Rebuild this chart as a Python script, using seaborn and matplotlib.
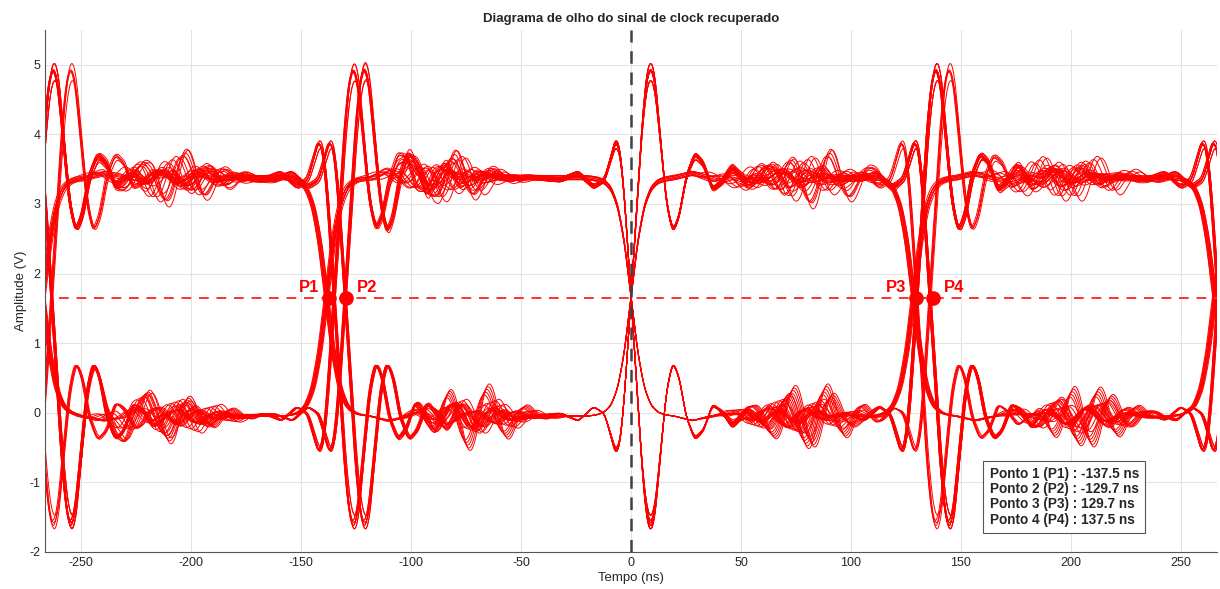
import numpy as np
import pandas as pd
import matplotlib
matplotlib.use("Agg")
import matplotlib.pyplot as plt
import seaborn as sns

sharp_t = [-45, -32, -24, -17, -12, -9, -7, -5, -3, 0, 3, 5, 7, 9, 11, 13, 16, 19, 22, 25, 29, 33, 37, 41, 46, 52, 60, 70, 90]
sharp_v = [0.0, 0.01, -0.02, 0.04, 0.01, -0.09, -0.16, -0.12, 0.08, 0.5, 0.93, 1.22, 1.42, 1.48, 1.41,
           1.2, 0.9, 0.77, 0.84, 1.0, 1.1, 1.06, 0.95, 0.98, 1.04, 0.98, 1.01, 1.0, 1.0]
smooth_t = [-40, -20, -15, -12, -9, -6, -3, 0, 3, 6, 9, 12, 15, 20, 28, 40, 60]
smooth_v = [0.0, 0.0, 0.007, 0.018, 0.047, 0.12, 0.27, 0.5, 0.73, 0.88, 0.953, 0.982, 0.993, 1.0, 1.02, 0.99, 1.0]

low_level = -0.05
high_level = 3.38

# one row per recovered clock trace
start_level = [0, 1, 0, 1, 0, 1, 0, 1, 0, 1, 0, 1]
edge_kind = ["sharp"] * 8 + ["smooth"] * 4
edges = [
    [-271.5, -135.0, 0.0, 130.0, 267.0],
    [-263.5, -130.0, 0.0, 136.0, 272.0],
    [-263.5, -130.0, 0.0, 136.0, 272.0],
    [-271.5, -135.0, 0.0, 130.0, 267.0],
    [-271.5, -130.0, 0.0, 136.0, 267.0],
    [-263.5, -135.0, 0.0, 130.0, 272.0],
    [-271.5, -135.0, 0.0, 136.0, 272.0],
    [-263.5, -130.0, 0.0, 130.0, 267.0],
    [-268.0, -139.0, 0.0, 128.0, 265.0],
    [-268.0, -139.0, 0.0, 128.0, 265.0],
    [-267.0, -138.0, 0.0, 129.0, 266.0],
    [-267.0, -138.0, 0.0, 129.0, 266.0],
]

# ringing packets in the middle of each half period
pk_center = [-207, -78, 74, 200]
pk_amp = [
    [0.10, 0.42, -0.15, 0.12],
    [-0.40, 0.10, 0.42, -0.12],
    [0.15, -0.12, 0.10, 0.38],
    [-0.12, 0.15, -0.40, 0.10],
    [0.38, -0.10, 0.15, -0.15],
    [-0.15, 0.40, -0.10, 0.12],
    [0.12, -0.15, 0.38, -0.40],
    [-0.10, 0.12, -0.15, 0.15],
    [0.28, -0.22, 0.28, -0.22],
    [-0.22, 0.28, -0.22, 0.28],
    [0.18, 0.22, -0.18, 0.20],
    [-0.28, -0.18, 0.22, -0.28],
]
pk_shift = [
    [5, 8, -6, 3],
    [-8, -4, 10, -5],
    [10, 6, -10, 8],
    [-3, -10, 4, -8],
    [0, 12, 8, 12],
    [12, -7, -3, -12],
    [-12, 2, 12, 5],
    [6, -12, -8, 0],
    [-6, 4, 2, -3],
    [4, -5, -4, 6],
    [8, 10, -12, 10],
    [-10, -8, 6, -10],
]
pk_period = 18.0
pk_width = 15.0

# each trace is drawn as a thin bundle of near copies
bundle_edge = [-0.5, -0.25, 0.0, 0.25, 0.5]
bundle_pk = [-1.0, -0.5, 0.0, 0.5, 1.0]
bundle_lvl = [0.03, -0.02, 0.0, 0.02, -0.03]
bundle_ov = [-0.06, 0.0, -0.03, 0.02, -0.09]

p_names = ["P1", "P2", "P3", "P4"]
p_times = [-137.5, -129.7, 129.7, 137.5]
threshold = 1.65

t = np.arange(-268, 268.01, 0.25)
kern = np.exp(-0.5 * (np.arange(-8, 9) * 0.25 / 0.8) ** 2)
kern = kern / kern.sum()


def step(tt, kind, ov):
    if kind == "sharp":
        s = np.interp(tt, sharp_t, sharp_v, left=0, right=1)
    else:
        s = np.interp(tt, smooth_t, smooth_v, left=0, right=1)
    return s + ov * (s - np.clip(s, 0, 1))


rows = []
uid = 0
for i in range(len(edges)):
    spread = 1.2 if edge_kind[i] == "sharp" else 3.5
    for b in range(len(bundle_edge)):
        lvl = float(start_level[i])
        sign = 1 if start_level[i] == 0 else -1
        for e in edges[i]:
            te = e if e == 0 else e + bundle_edge[b]
            lvl = lvl + sign * step(t - te, edge_kind[i], bundle_ov[b])
            sign = -sign
        v = low_level + (high_level - low_level + bundle_lvl[b]) * lvl
        for c, a, s in zip(pk_center, pk_amp[i], pk_shift[i]):
            cc = c + s + bundle_pk[b] * spread
            v = v + a * (1 + 0.2 * bundle_pk[b]) * np.exp(-0.5 * ((t - cc) / pk_width) ** 2) \
                * np.sin(2 * np.pi * (t - cc) / pk_period)
        vp = np.pad(v, 8, mode="edge")
        v = np.convolve(vp, kern, mode="valid")
        rows.append(pd.DataFrame({"t": t, "v": v, "trace": uid}))
        uid += 1
df = pd.concat(rows, ignore_index=True)

sns.set_style("white")
plt.rcParams["font.family"] = ["Liberation Sans", "DejaVu Sans"]
plt.rcParams["axes.unicode_minus"] = False

fig, ax = plt.subplots(figsize=(12.2, 5.89), dpi=100)
fig.subplots_adjust(left=0.037, right=0.9975, top=0.949, bottom=0.063)

ax.grid(True, color="#e3e3e3", lw=0.8)
ax.set_axisbelow(True)

sns.lineplot(data=df, x="t", y="v", units="trace", estimator=None, color="red",
             lw=0.7, ax=ax, legend=False)

ax.plot([-260, 267], [threshold, threshold], ls=(0, (5, 4)), color="#ff3030", lw=1.4)
ax.axvline(0, color="#404040", ls=(0, (5, 3.5)), lw=1.8)

ax.plot(p_times, [threshold] * 4, "o", color="red", ms=9.5)
for name, pt in zip(p_names, p_times):
    if name in ("P1", "P3"):
        ax.text(pt - 4.3, threshold + 0.04, name, color="red", fontsize=12, fontweight="bold",
                ha="right", va="bottom")
    else:
        ax.text(pt + 5.0, threshold + 0.04, name, color="red", fontsize=12, fontweight="bold",
                ha="left", va="bottom")

info = "\n".join(f"Ponto {k + 1} ({n}) : {pt:.1f} ns" for k, (n, pt) in enumerate(zip(p_names, p_times)))
ax.text(0.806, 0.163, info, transform=ax.transAxes, fontsize=9.8, fontweight="bold", color="#262626",
        ha="left", va="top", linespacing=1.12,
        bbox=dict(boxstyle="square,pad=0.45", fc="white", ec="#555555", lw=0.8))

ax.set_xlim(-266.5, 266.5)
ax.set_ylim(-2, 5.5)
ax.set_xticks(range(-250, 251, 50))
ax.set_yticks(range(-2, 6))
ax.tick_params(direction="in", length=4, labelsize=9, colors="#262626")
for sp in ["top", "right"]:
    ax.spines[sp].set_visible(False)
for sp in ["left", "bottom"]:
    ax.spines[sp].set_color("#555555")
ax.set_xlabel("Tempo (ns)", fontsize=9.5, color="#262626", labelpad=2)
ax.set_ylabel("Amplitude (V)", fontsize=9.5, color="#262626", labelpad=2)
ax.set_title("Diagrama de olho do sinal de clock recuperado", fontsize=9.5, fontweight="bold",
             color="#262626", pad=6)

fig.savefig("out.png", dpi=100)
